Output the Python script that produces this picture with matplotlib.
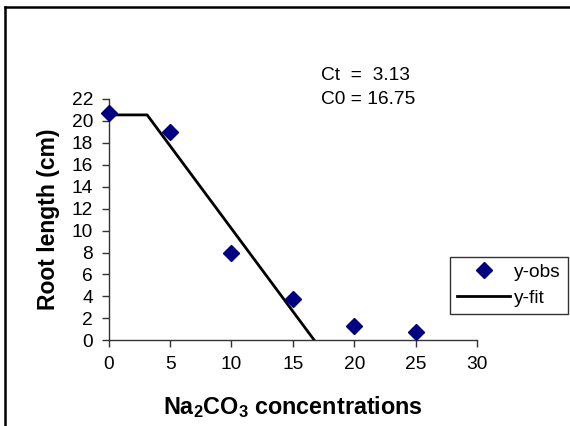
import matplotlib
matplotlib.use("Agg")
import matplotlib.pyplot as plt
from matplotlib.lines import Line2D

plt.rcParams["font.family"] = ["Liberation Sans", "DejaVu Sans"]

conc = [0, 5, 10, 15, 20, 25]
root_obs = [20.7, 19.0, 8.0, 3.8, 1.3, 0.8]

fit_x = [0, 3.13, 16.75]
fit_y = [20.55, 20.55, 0]

x_ticks = [0, 5, 10, 15, 20, 25, 30]
y_ticks = list(range(0, 23, 2))

fig = plt.figure(figsize=(5.70, 4.26), dpi=100)
ax = fig.add_axes([108.7 / 570, 1 - 340.3 / 426, (477 - 108.7) / 570, (340.3 - 99) / 426])

ax.plot(fit_x, fit_y, color="black", linewidth=2.0, label="y-fit", zorder=2)
ax.plot(conc, root_obs, linestyle="none", marker="D", markersize=8,
        color="#000080", label="y-obs", zorder=3, clip_on=False)

ax.set_xlim(0, 30)
ax.set_ylim(0, 22)
ax.set_xticks(x_ticks)
ax.set_yticks(y_ticks)
ax.tick_params(axis="both", labelsize=13.8, length=5, width=1, color="#333333",
               direction="out", pad=6.3)
for side in ("top", "right"):
    ax.spines[side].set_visible(False)
for side in ("left", "bottom"):
    ax.spines[side].set_color("#333333")
    ax.spines[side].set_linewidth(1)

ax.set_xlabel("Na$_\\mathregular{2}$CO$_\\mathregular{3}$ concentrations", fontsize=16.8,
              fontweight="bold", labelpad=15)
ax.set_ylabel("Root length (cm)", fontsize=16.5, fontweight="bold", labelpad=8)

fig.text(321 / 570, 1 - 76 / 426, "Ct  =  3.13", fontsize=13.8, va="center", ha="left")
fig.text(321 / 570, 1 - 99 / 426, "C0 = 16.75", fontsize=13.8, va="center", ha="left")

handles, labels = ax.get_legend_handles_labels()
order = [1, 0]
leg = ax.legend([handles[i] for i in order], [labels[i] for i in order],
                loc="upper left", bbox_to_anchor=(450 / 570, 1 - 256.7 / 426),
                bbox_transform=fig.transFigure, fontsize=13.8, frameon=True,
                fancybox=False, edgecolor="black", handlelength=2.8,
                handletextpad=0.2, borderpad=0.35, labelspacing=0.45, borderaxespad=0)
leg.get_frame().set_linewidth(1)

fig.add_artist(Line2D([4.5 / 570, 4.5 / 570], [0, 1 - 7 / 426], color="black",
                      linewidth=1.8, transform=fig.transFigure))
fig.add_artist(Line2D([4.5 / 570, 1], [1 - 7 / 426, 1 - 7 / 426], color="black",
                      linewidth=1.8, transform=fig.transFigure))

fig.savefig("out.png", dpi=100)
